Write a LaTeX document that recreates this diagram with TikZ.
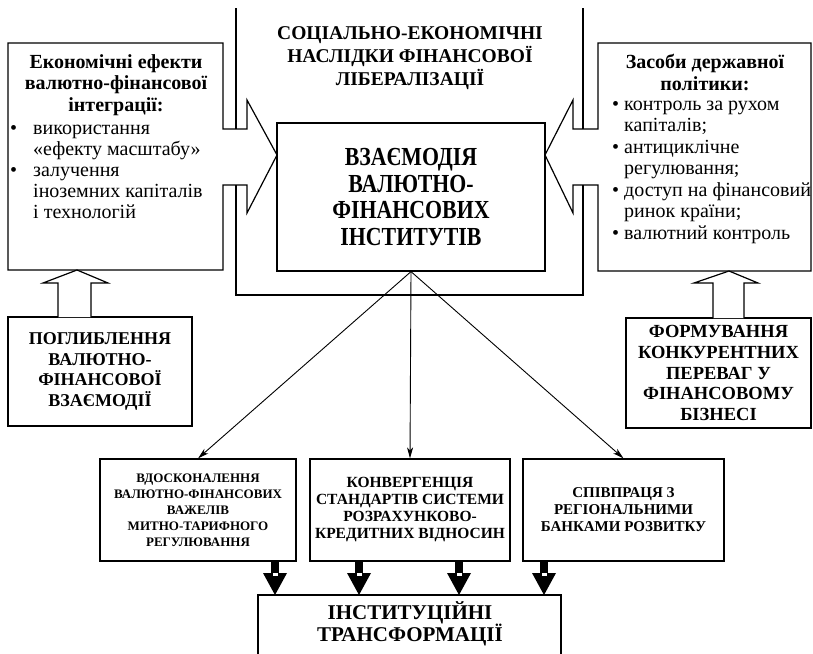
\documentclass[tikz,border=0pt]{standalone}
\usepackage{fontspec}
\setmainfont{Liberation Serif}
\newfontfamily\narrowserif[FakeStretch=0.84]{Liberation Serif}
\usetikzlibrary{arrows.meta}

\newcommand\fsz[2]{\fontsize{#1}{#2}\selectfont}

\begin{document}
\begin{tikzpicture}[x=1pt,y=-1pt,
  lw/.style={line width=1.2pt},
  box/.style={draw, lw, inner sep=0pt, align=center},
  txt/.style={inner sep=0pt, align=center},
  thinarrow/.style={line width=0.9pt, -{Stealth[length=11pt,width=6pt,inset=3pt]}},
  fatarrow/.pic={
    \fill (-4,0) rectangle (4,14);
    \fill (-12,12) -- (12,12) -- (0,34) -- cycle;
    \fill[white] (-2.5,12) rectangle (2.5,14.5);
  }
]
\useasboundingbox (0,0) rectangle (813,653);
\clip (0,0) rectangle (813,653);

% open frame around the central block
\draw[lw] (236,8) -- (236,129);
\draw[lw] (236,185) -- (236,295) -- (583,295) -- (583,185);
\draw[lw] (583,129) -- (583,8);

% left box with its block arrow towards the centre
\draw[lw] (223,129) -- (223,43) -- (8,43) -- (8,270) -- (223,270) -- (223,185)
  -- (247,185) -- (247,213) -- (277,155) -- (247,100) -- (247,129) -- cycle;
% right box with its block arrow towards the centre
\draw[lw] (598,129) -- (598,43) -- (811,43) -- (811,271) -- (598,271) -- (598,185)
  -- (573,185) -- (573,213) -- (545,155) -- (573,100) -- (573,129) -- cycle;

\node[txt, font=\bfseries\fsz{19.5}{23}] (title) at (410,58.5)
  {СОЦІАЛЬНО-ЕКОНОМІЧНІ\\НАСЛІДКИ ФІНАНСОВОЇ\\ЛІБЕРАЛІЗАЦІЇ};

\node[txt, font=\bfseries\fsz{20}{21.5}] (econhead) at (116,85)
  {Економічні ефекти\\валютно-фінансової\\інтеграції:};
\node[txt, align=left, anchor=west, font=\fsz{20}{21}] (econlist) at (33,171.5)
  {\llap{\textbullet\hspace{16pt}}використання\\«ефекту масштабу»\\
   \llap{\textbullet\hspace{16pt}}залучення\\іноземних капіталів\\і технологій};

\node[txt, font=\bfseries\fsz{20}{21.5}] (polhead) at (705,72.5)
  {Засоби державної\\політики:};
\node[txt, align=left, anchor=west, font=\fsz{20}{21.5}] (pollist) at (624,172)
  {\llap{\textbullet\hspace{5pt}}контроль за рухом\\капіталів;\\
   \llap{\textbullet\hspace{5pt}}антициклічне\\регулювання;\\
   \llap{\textbullet\hspace{5pt}}доступ на фінансовий\\ринок країни;\\
   \llap{\textbullet\hspace{5pt}}валютний контроль};

% central block
\node[box, minimum width=268pt, minimum height=148pt,
      font=\narrowserif\bfseries\fsz{26}{26.7}] (core) at (411,197)
  {ВЗАЄМОДІЯ\\ВАЛЮТНО-\\ФІНАНСОВИХ\\ІНСТИТУТІВ};

% lower side boxes with hollow arrows
\node[box, minimum width=184pt, minimum height=109pt,
      font=\bfseries\fsz{18}{20.5}] (deep) at (100,371.5)
  {ПОГЛИБЛЕННЯ\\ВАЛЮТНО-\\ФІНАНСОВОЇ\\ВЗАЄМОДІЇ};
\node[box, minimum width=185pt, minimum height=110pt,
      font=\bfseries\fsz{18.5}{20.7}] (compet) at (718.5,373)
  {ФОРМУВАННЯ\\КОНКУРЕНТНИХ\\ПЕРЕВАГ У\\ФІНАНСОВОМУ\\БІЗНЕСІ};

\draw[lw, fill=white] (58,317) -- (58,283) -- (43,283) -- (77,270)
  -- (108,283) -- (91,283) -- (91,317);
\draw[lw, fill=white] (713,318) -- (713,283) -- (694,283) -- (729,271)
  -- (758,283) -- (744,283) -- (744,318);

% bottom row
\node[box, minimum width=196pt, minimum height=102pt,
      font=\bfseries\fsz{13}{16}] (b1) at (198,510)
  {ВДОСКОНАЛЕННЯ\\ВАЛЮТНО-ФІНАНСОВИХ\\ВАЖЕЛІВ\\МИТНО-ТАРИФНОГО\\РЕГУЛЮВАННЯ};
\node[box, minimum width=200pt, minimum height=102pt,
      font=\bfseries\fsz{15.5}{17}] (b2) at (410,510)
  {КОНВЕРГЕНЦІЯ\\СТАНДАРТІВ СИСТЕМИ\\РОЗРАХУНКОВО-\\КРЕДИТНИХ ВІДНОСИН};
\node[box, minimum width=201pt, minimum height=102pt,
      font=\bfseries\fsz{15}{17}] (b3) at (623.5,510)
  {СПІВПРАЦЯ З\\РЕГІОНАЛЬНИМИ\\БАНКАМИ РОЗВИТКУ};

\draw[thinarrow] (core.south) -- (b1.north);
\draw[thinarrow] (core.south) -- (b2.north);
\draw[thinarrow] (core.south) -- (b3.north);

% result block, running past the lower edge
\draw[lw] (258,660) -- (258,595) -- (561,595) -- (561,660);
\node[txt, font=\bfseries\fsz{21}{22}] (inst) at (410,624)
  {ІНСТИТУЦІЙНІ\\ТРАНСФОРМАЦІЇ};

\pic at (275,561) {fatarrow};
\pic at (359,561) {fatarrow};
\pic at (459,561) {fatarrow};
\pic at (544,561) {fatarrow};
\end{tikzpicture}
\end{document}
